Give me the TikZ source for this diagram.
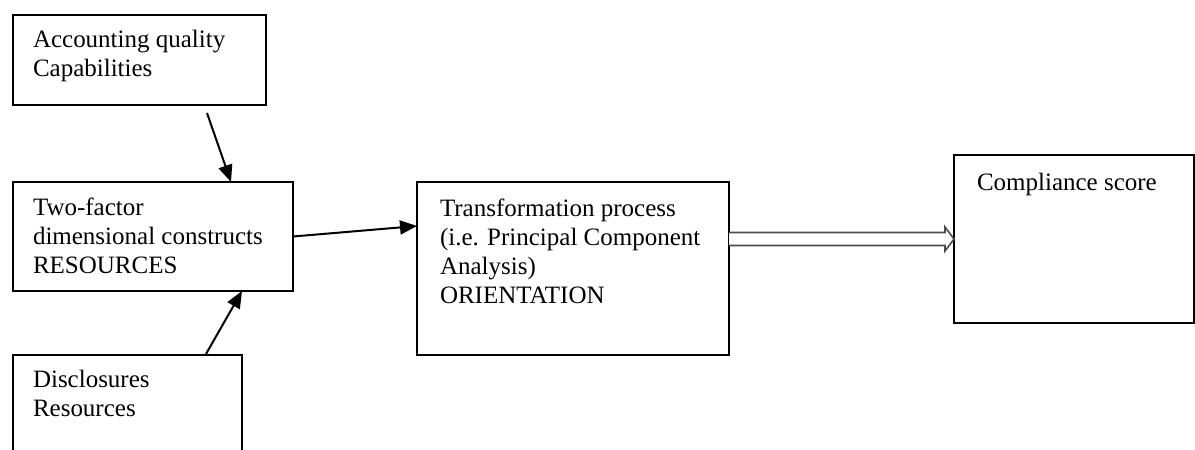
\documentclass[tikz,border=0pt]{standalone}
\usepackage{fontspec}
\setmainfont{Liberation Serif}
\usetikzlibrary{arrows.meta,calc}
\tikzset{
  box/.style={draw=black, line width=1.3pt, inner sep=0pt, outer sep=0pt, anchor=north west},
  lbl/.style={anchor=base west, inner sep=0pt, outer sep=0pt, align=left, font=\fontsize{25}{28.7}\selectfont},
  conn/.style={draw=black, line width=2pt, -{Triangle[length=17pt,width=14pt]}},
  hollow/.style={draw=black!70, line width=1.6pt, fill=white, line join=miter}
}
\begin{document}
\begin{tikzpicture}[x=1pt,y=-1pt]
\clip (0,0) rectangle (1195,450);
\fill[white] (0,0) rectangle (1195,450);
% boxes
\node[box, minimum width=253pt, minimum height=90pt] (A) at (13,15) {};
\node[box, minimum width=280pt, minimum height=109pt] (B) at (13,182) {};
\node[box, minimum width=312pt, minimum height=173pt] (C) at (417,182) {};
\node[box, minimum width=240pt, minimum height=168pt] (D) at (954,155) {};
\node[box, minimum width=229pt, minimum height=130pt] (E) at (13,355) {};
% texts (anchored at the baseline of the last line)
\node[lbl] (tA) at (33,76) {Accounting quality\\Capabilities};
\node[lbl] (tB) at (33,273) {Two-factor\\dimensional constructs\\RESOURCES};
\node[lbl] (tC) at (440,303) {Transformation process\\(i.e. Principal Component\\Analysis)\\ORIENTATION};
\node[lbl] (tD) at (977,190) {Compliance score};
\node[lbl] (tE) at (33,416) {Disclosures\\Resources};
% connectors
\coordinate (a1) at ($(A.south west)+(194,8)$);
\draw[conn] (a1) -- ($(B.north west)+(218,0)$);
\draw[conn] (B.east) -- ($(C.north west)+(0,44)$);
\coordinate (e1) at ($(E.north west)+(193,-1)$);
\draw[conn] (e1) -- ($(B.south west)+(229,0)$);
% hollow double arrow
\coordinate (s) at (C.east |- D.west);
\coordinate (t) at (D.west);
\draw[hollow] ($(s)+(0,-6.5)$) -- ($(t)+(-9,-6.5)$) -- ($(t)+(-9,-12)$) -- (t)
  -- ($(t)+(-9,12)$) -- ($(t)+(-9,6.5)$) -- ($(s)+(0,6.5)$);
\end{tikzpicture}
\end{document}
